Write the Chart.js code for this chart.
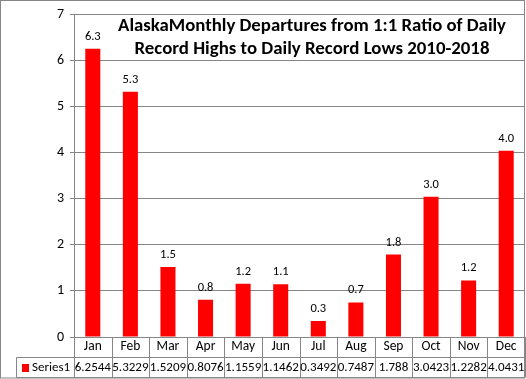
<!DOCTYPE html>
<html>
<head>
<meta charset="utf-8">
<script src="https://cdn.jsdelivr.net/npm/chart.js@4/dist/chart.umd.min.js"></script>
<style>
html,body{margin:0;padding:0;background:#fff;}
#wrap{width:526px;height:379px;position:relative;}
</style>
</head>
<body>
<div id="wrap"><canvas id="c" width="526" height="379"></canvas></div>
<script>
const months = ['Jan','Feb','Mar','Apr','May','Jun','Jul','Aug','Sep','Oct','Nov','Dec'];
const series1 = [6.2544, 5.3229, 1.5209, 0.8076, 1.1559, 1.1462, 0.3492, 0.7487, 1.788, 3.0423, 1.2282, 4.0431];
const seriesName = 'Series1';
const titleLines = ['AlaskaMonthly Departures from 1:1 Ratio of Daily', 'Record Highs to Daily Record Lows 2010-2018'];
const yTicks = [0,1,2,3,4,5,6,7];

const GRID = '#868686';
const FONT = "Carlito, 'Liberation Sans', Arial, sans-serif";

const labelPlugin = {
  id: 'barLabels',
  afterDatasetsDraw(chart) {
    const ctx = chart.ctx;
    const meta = chart.getDatasetMeta(0);
    ctx.save();
    ctx.font = '12.5px ' + FONT;
    ctx.fillStyle = '#000';
    ctx.textAlign = 'center';
    ctx.textBaseline = 'alphabetic';
    meta.data.forEach((bar, i) => {
      ctx.fillText(series1[i].toFixed(1), bar.x, bar.y - 9);
    });
    ctx.restore();
  }
};

const titlePlugin = {
  id: 'overlayTitle',
  afterDraw(chart) {
    const ctx = chart.ctx;
    ctx.save();
    ctx.font = 'bold 19px ' + FONT;
    ctx.fillStyle = '#000';
    ctx.textAlign = 'center';
    ctx.textBaseline = 'alphabetic';
    ctx.fillText(titleLines[0], 312, 31, 388);
    ctx.fillText(titleLines[1], 312, 54, 355);
    ctx.restore();
  }
};

const tablePlugin = {
  id: 'dataTable',
  afterDraw(chart) {
    const ctx = chart.ctx;
    const xs = chart.scales.x;
    const left = xs.left, right = xs.right;
    const n = months.length;
    const cw = (right - left) / n;
    const top = xs.top, mid = 357.5, bot = 377.5;
    ctx.save();
    ctx.strokeStyle = GRID;
    ctx.lineWidth = 1;
    ctx.beginPath();
    for (let i = 0; i <= n; i++) {
      const x = Math.round(left + i * cw) + 0.5;
      ctx.moveTo(x, top);
      ctx.lineTo(x, bot);
    }
    ctx.moveTo(16.5, mid); ctx.lineTo(right, mid);
    ctx.moveTo(16.5, bot); ctx.lineTo(right, bot);
    ctx.moveTo(16.5, mid); ctx.lineTo(16.5, bot);
    ctx.stroke();
    ctx.strokeRect(0.5, 0.5, 524, 377.5);
    ctx.fillStyle = '#FF0000';
    ctx.fillRect(22, 364, 7, 8);
    ctx.fillStyle = '#000';
    ctx.font = '13px ' + FONT;
    ctx.textBaseline = 'middle';
    ctx.textAlign = 'left';
    ctx.fillText(seriesName, 32, 368, 41);
    ctx.textAlign = 'center';
    for (let i = 0; i < n; i++) {
      const cx = xs.getPixelForValue(i);
      ctx.fillText(String(series1[i]), cx, 368, cw);
    }
    ctx.restore();
  }
};

new Chart(document.getElementById('c'), {
  type: 'bar',
  data: {
    labels: months,
    datasets: [{
      label: seriesName,
      data: series1,
      backgroundColor: '#FF0000',
      borderWidth: 0,
      barPercentage: 0.4,
      categoryPercentage: 1.0
    }]
  },
  options: {
    responsive: false,
    animation: false,
    devicePixelRatio: 1,
    layout: { padding: { top: 9, right: 1, left: 0, bottom: 0 } },
    plugins: { legend: { display: false }, title: { display: false }, tooltip: { enabled: false } },
    scales: {
      x: {
        grid: { display: true, drawOnChartArea: false, drawTicks: false },
        border: { display: true, color: GRID },
        ticks: { color: '#000', font: { size: 13.5, family: FONT }, padding: 2, maxRotation: 0, autoSkip: false },
        afterFit(s) { s.height = 42; }
      },
      y: {
        min: 0, max: 7,
        afterBuildTicks(s) { s.ticks = yTicks.map(v => ({ value: v })); },
        grid: { color: GRID, tickLength: 4, drawTicks: true },
        border: { display: true, color: GRID },
        ticks: { color: '#000', font: { size: 14, family: FONT }, padding: 6, stepSize: 1 },
        afterFit(s) { s.width = 74; }
      }
    }
  },
  plugins: [labelPlugin, titlePlugin, tablePlugin]
});
</script>
</body>
</html>
